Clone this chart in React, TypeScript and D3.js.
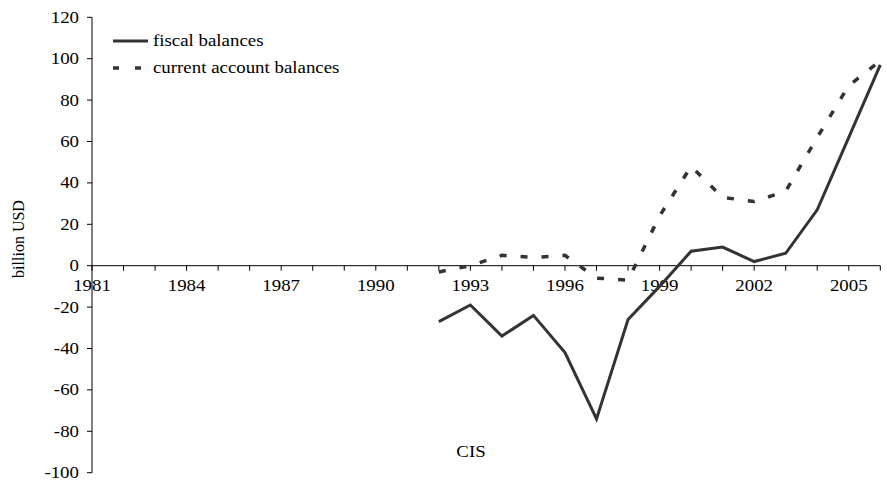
import React from "react";
import * as d3 from "d3";

const years: number[] = d3.range(1981, 2007);
const fiscalYears = [1992, 1993, 1994, 1995, 1996, 1997, 1998, 1999, 2000, 2001, 2002, 2003, 2004, 2005, 2006];
const fiscalBalances = [-27, -19, -34, -24, -42, -74, -26, -10, 7, 9, 2, 6, 27, 62, 97];
const currentAccountBalances = [-3, 0, 5, 4, 5, -6, -7, 24, 48, 33, 31, 36, 62, 87, 99];
const yTicks = [-100, -80, -60, -40, -20, 0, 20, 40, 60, 80, 100, 120];
const xLabelYears = [1981, 1984, 1987, 1990, 1993, 1996, 1999, 2002, 2005];
const seriesNames = ["fiscal balances", "current account balances"];

const W = 887, H = 491;
const FONT = "'Liberation Serif', 'Times New Roman', serif";
const FS = 16;
const SX = 1.18;
const COLOR = "#333";

export default function App() {
  const x = d3.scalePoint<number>().domain(years).range([92, 880.3]);
  const y = d3.scaleLinear().domain([-100, 120]).range([472.7, 17.3]);
  const line = d3
    .line<[number, number]>()
    .x((d) => x(d[0]) as number)
    .y((d) => y(d[1]));
  const fiscal = fiscalYears.map((yr, i) => [yr, fiscalBalances[i]] as [number, number]);
  const current = fiscalYears.map((yr, i) => [yr, currentAccountBalances[i]] as [number, number]);
  const y0 = y(0);
  const xAxisEnd = x(years[years.length - 1]) as number;

  const txt = (key: string, tx: number, ty: number, s: string, anchor: string) => (
    <text
      key={key}
      transform={`translate(${tx},${ty}) scale(${SX},1)`}
      textAnchor={anchor}
      fontFamily={FONT}
      fontSize={FS}
      fill="#000"
    >
      {s}
    </text>
  );

  return (
    <svg width={W} height={H} style={{ position: "absolute", left: 0, top: 0, background: "#fff" }}>
      {/* y axis */}
      <line x1={92} x2={92} y1={y(120)} y2={y(-100)} stroke="#000" strokeWidth={1} />
      {yTicks.map((t) => (
        <g key={"yt" + t}>
          <line x1={87} x2={92} y1={y(t)} y2={y(t)} stroke="#000" strokeWidth={1} />
          {txt("yl" + t, 79, y(t) + 5.5, String(t), "end")}
        </g>
      ))}
      {/* x axis at zero */}
      <line x1={92} x2={xAxisEnd} y1={y0} y2={y0} stroke="#000" strokeWidth={1} />
      {years.map((yr) => (
        <line key={"xt" + yr} x1={x(yr) as number} x2={x(yr) as number} y1={y0} y2={y0 + 5} stroke="#000" strokeWidth={1} />
      ))}
      {xLabelYears.map((yr) => txt("xl" + yr, x(yr) as number, y0 + 25, String(yr), "middle"))}
      {/* series */}
      <path d={line(fiscal) || ""} fill="none" stroke={COLOR} strokeWidth={3} strokeLinejoin="miter" />
      <path d={line(current) || ""} fill="none" stroke={COLOR} strokeWidth={3.5} strokeDasharray="7,14" />
      {/* legend */}
      <line x1={113} x2={148} y1={41} y2={41} stroke={COLOR} strokeWidth={3} />
      {txt("lg0", 153, 46, seriesNames[0], "start")}
      <line x1={113} x2={148} y1={68} y2={68} stroke={COLOR} strokeWidth={3.5} strokeDasharray="6,16" />
      {txt("lg1", 153, 73, seriesNames[1], "start")}
      {/* axis titles */}
      <text
        transform={`translate(24,239) rotate(-90)`}
        textAnchor="middle"
        fontFamily={FONT}
        fontSize={FS}
        fill="#000"
      >
        billion USD
      </text>
      {txt("cis", 471, 457, "CIS", "middle")}
    </svg>
  );
}
